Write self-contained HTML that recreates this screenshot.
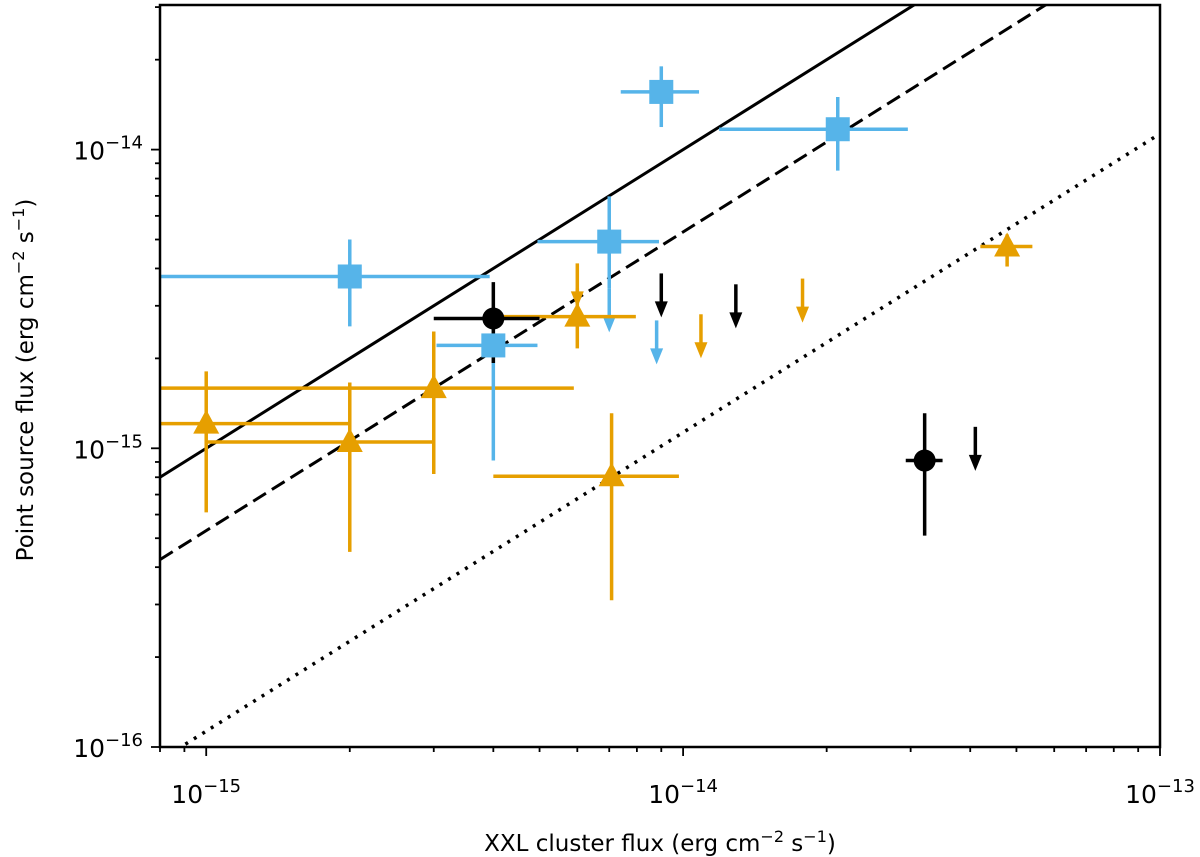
<!DOCTYPE html>
<html><head><meta charset="utf-8"><style>
html,body{margin:0;padding:0;background:#fff;}
svg{display:block;font-family:"DejaVu Sans","Liberation Sans",sans-serif;}
</style></head><body>
<svg id="chart" width="1200" height="857" viewBox="0 0 1200 857" xmlns="http://www.w3.org/2000/svg"></svg>
<script>
// ---- data (log-log fluxes, erg cm^-2 s^-1) ----
const blueX   = [2.0e-15, 4.0e-15, 7.0e-15, 9.0e-15, 2.11e-14];
const blueXlo = [7.0e-16, 3.04e-15, 4.95e-15, 7.4e-15, 1.19e-14];
const blueXhi = [3.93e-15, 4.95e-15, 8.9e-15, 1.08e-14, 2.96e-14];
const blueY   = [3.76e-15, 2.21e-15, 4.92e-15, 1.56e-14, 1.17e-14];
const blueYlo = [2.56e-15, 9.1e-16, 3.43e-15, 1.19e-14, 8.5e-15];
const blueYhi = [5.0e-15, 2.55e-15, 6.97e-15, 1.9e-14, 1.5e-14];
const blueLimX = [7.0e-15, 8.8e-15];
const blueLimY = [3.43e-15, 2.68e-15];
const blackX   = [4.0e-15, 3.21e-14];
const blackXlo = [3.0e-15, 2.93e-14];
const blackXhi = [5.0e-15, 3.5e-14];
const blackY   = [2.72e-15, 9.1e-16];
const blackYlo = [1.93e-15, 5.1e-16];
const blackYhi = [3.6e-15, 1.31e-15];
const blackLimX = [9.0e-15, 1.29e-14, 4.1e-14];
const blackLimY = [3.85e-15, 3.54e-15, 1.18e-15];
const orangeX   = [1.0e-15, 2.0e-15, 3.0e-15, 6.0e-15, 7.08e-15, 4.78e-14];
const orangeXlo = [7.0e-16, 1.0e-15, 7.0e-16, 4.1e-15, 4.0e-15, 4.2e-14];
const orangeXhi = [2.0e-15, 3.0e-15, 5.9e-15, 7.96e-15, 9.8e-15, 5.4e-14];
const orangeY   = [1.21e-15, 1.05e-15, 1.59e-15, 2.76e-15, 8.06e-16, 4.74e-15];
const orangeYlo = [6.1e-16, 4.5e-16, 8.2e-16, 2.16e-15, 3.1e-16, 4.06e-15];
const orangeYhi = [1.81e-15, 1.66e-15, 2.46e-15, 3.43e-15, 1.31e-15, 5.2e-15];
const orangeLimX = [6.0e-15, 1.09e-14, 1.78e-14];
const orangeLimY = [4.16e-15, 2.81e-15, 3.7e-15];
const lineRatios = [1.0, 0.53, 0.113];
const lineStyles = ["solid", "dashed", "dotted"];
const xTickExp = [-15, -14, -13];
const yTickExp = [-16, -15, -14];

const svg = document.getElementById('chart');
const NS = "http://www.w3.org/2000/svg";
const L = 160, R = 1160, T = 5, B = 747;
const xmin = Math.log10(8.0e-16), xmax = -13;
const ymin = -16, ymax = -16 + (B - T) / 298.7;
function sx(v){ return L + (Math.log10(v) - xmin) / (xmax - xmin) * (R - L); }
function sy(v){ return B - (Math.log10(v) - ymin) / (ymax - ymin) * (B - T); }
function mk(tag, attrs, parent){
  const e = document.createElementNS(NS, tag);
  for (const k in attrs) e.setAttribute(k, attrs[k]);
  (parent || svg).appendChild(e);
  return e;
}
const defs = mk('defs', {});
const cp = mk('clipPath', {id: 'plotclip'}, defs);
mk('rect', {x: L, y: T, width: R - L, height: B - T}, cp);
const plot = mk('g', {'clip-path': 'url(#plotclip)'});



lineRatios.forEach((k, i) => {
  const x1 = Math.pow(10, xmin), x2 = 1e-13;
  const attrs = {x1: sx(x1), y1: sy(x1 * k), x2: sx(x2), y2: sy(x2 * k), stroke: '#000', 'stroke-width': 3, fill: 'none'};
  if (lineStyles[i] === 'dashed') attrs['stroke-dasharray'] = '15,7';
  if (lineStyles[i] === 'dotted') { attrs['stroke-dasharray'] = '3,7'; attrs['stroke-width'] = 3.5; }
  const ln = mk('line', attrs, plot);
  
  
});

function errbars(X, Xlo, Xhi, Y, Ylo, Yhi, color, name){
  X.forEach((x, i) => {
    const g = mk('g', {}, plot);
    
    
    mk('line', {x1: sx(Xlo[i]), x2: sx(Xhi[i]), y1: sy(Y[i]), y2: sy(Y[i]), stroke: color, 'stroke-width': 3.5}, g);
    mk('line', {x1: sx(x), x2: sx(x), y1: sy(Ylo[i]), y2: sy(Yhi[i]), stroke: color, 'stroke-width': 3.5}, g);
  });
}
function arrows(X, Y, color, name){
  X.forEach((x, i) => {
    const g = mk('g', {}, plot);
    
    
    const px = sx(x), py = sy(Y[i]);
    mk('line', {x1: px, x2: px, y1: py, y2: py + 32, stroke: color, 'stroke-width': 3.5}, g);
    mk('polygon', {points: (px - 6.5) + ',' + (py + 28) + ' ' + (px + 6.5) + ',' + (py + 28) + ' ' + px + ',' + (py + 44), fill: color}, g);
  });
}
const BLUE = '#56B4E9', ORANGE = '#E69F00', BLACK = '#000';
arrows(blueLimX, blueLimY, BLUE, 'blue');
arrows(blackLimX, blackLimY, BLACK, 'black');
arrows(orangeLimX, orangeLimY, ORANGE, 'orange');
errbars(orangeX, orangeXlo, orangeXhi, orangeY, orangeYlo, orangeYhi, ORANGE, 'orange');
errbars(blueX, blueXlo, blueXhi, blueY, blueYlo, blueYhi, BLUE, 'blue');
errbars(blackX, blackXlo, blackXhi, blackY, blackYlo, blackYhi, BLACK, 'black');
orangeX.forEach((x, i) => {
  const px = sx(x), py = sy(orangeY[i]);
  const t = mk('polygon', {points: px + ',' + (py - 14) + ' ' + (px - 13) + ',' + (py + 10) + ' ' + (px + 13) + ',' + (py + 10), fill: ORANGE}, plot);
  
  
});
blueX.forEach((x, i) => {
  const s = mk('rect', {x: sx(x) - 12, y: sy(blueY[i]) - 12, width: 24, height: 24, fill: BLUE}, plot);
  
  
});
blackX.forEach((x, i) => {
  const c = mk('circle', {cx: sx(x), cy: sy(blackY[i]), r: 11, fill: BLACK}, plot);
  
  
});

const frame = mk('rect', {x: L, y: T, width: R - L, height: B - T, fill: 'none', stroke: '#000', 'stroke-width': 2.5});



const ticks = mk('g', {stroke: '#000', 'stroke-width': 1.8});


for (let e = -16; e <= -13; e++) for (let m = 1; m < 10; m++) {
  const v = m * Math.pow(10, e);
  const lv = Math.log10(v);
  const len = m === 1 ? 9 : 5;
  if (lv >= xmin - 1e-9 && lv <= xmax + 1e-9) { const px = sx(v); mk('line', {x1: px, x2: px, y1: B, y2: B + len}, ticks); }
  if (lv >= ymin - 1e-9 && lv <= ymax + 1e-9) { const py = sy(v); mk('line', {x1: L - len, x2: L, y1: py, y2: py}, ticks); }
}
xTickExp.forEach(e => {
  const t = mk('text', {x: sx(Math.pow(10, e)), y: 803, 'text-anchor': 'middle', 'font-size': 25, fill: '#000'});
  
  
  t.innerHTML = '10<tspan dy="-11" font-size="18">\u2212' + (-e) + '</tspan>';
});
yTickExp.forEach(e => {
  const t = mk('text', {x: 143, y: sy(Math.pow(10, e)) + 10, 'text-anchor': 'end', 'font-size': 25, fill: '#000'});
  
  
  t.innerHTML = '10<tspan dy="-11" font-size="18">\u2212' + (-e) + '</tspan>';
});
const xt = mk('text', {x: 660, y: 851, 'text-anchor': 'middle', 'font-size': 23, fill: '#000'});


xt.innerHTML = 'XXL cluster flux (erg cm<tspan dy="-9" font-size="16">\u22122</tspan><tspan dy="9"> s</tspan><tspan dy="-9" font-size="16">\u22121</tspan><tspan dy="9">)</tspan>';
const yt = mk('text', {x: 0, y: 0, 'text-anchor': 'middle', 'font-size': 23, fill: '#000', transform: 'translate(33,380) rotate(-90)'});


yt.innerHTML = 'Point source flux (erg cm<tspan dy="-9" font-size="16">\u22122</tspan><tspan dy="9"> s</tspan><tspan dy="-9" font-size="16">\u22121</tspan><tspan dy="9">)</tspan>';
</script>
</body></html>
